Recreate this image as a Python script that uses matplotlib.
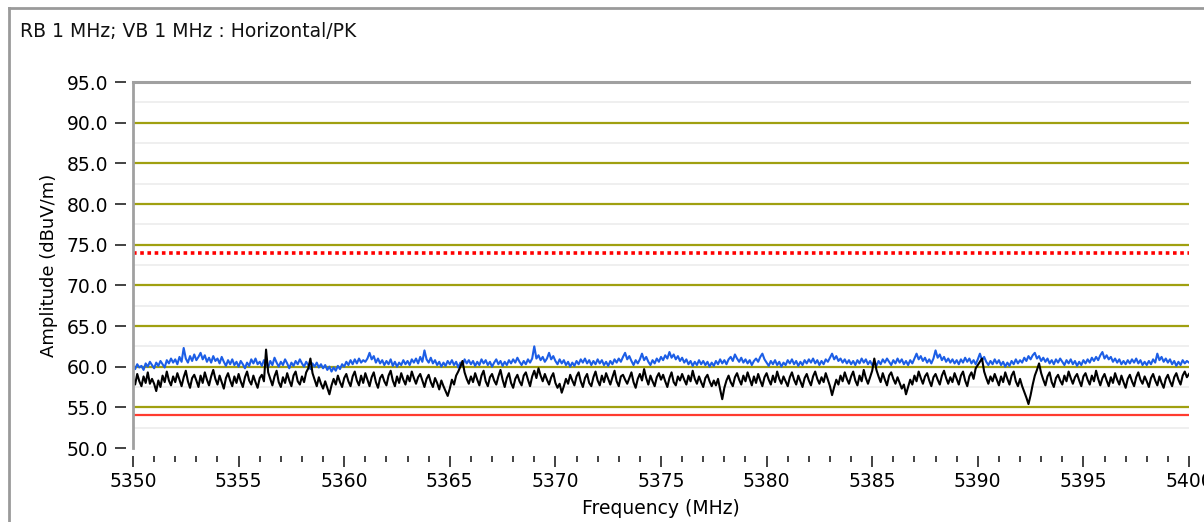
import numpy as np
import matplotlib
matplotlib.use("Agg")
import matplotlib.pyplot as plt
from matplotlib.lines import Line2D

# frequency axis: 5350 .. 5400 MHz, one reading every 0.1 MHz (one row = 1 MHz)
freq_start = 5350.0
freq_step = 0.1

# peak trace (blue), dBuV/m
peak_trace = [
    60.0, 59.7, 60.3, 59.9, 60.1, 59.6, 60.4, 60.0, 60.6, 60.2,
    59.8, 60.5, 60.1, 60.7, 60.3, 59.9, 60.8, 60.4, 61.0, 60.5,
    60.9, 60.3, 61.2, 60.6, 62.3, 61.0, 60.5, 61.3, 60.7, 61.5,
    60.8, 61.2, 61.7, 60.9, 61.4, 60.6, 61.1, 60.5, 61.3, 60.7,
    61.0, 60.4, 61.2, 60.6, 60.1, 60.8, 60.3, 60.9, 60.2, 60.6,
    60.0, 60.7, 60.3, 59.8, 60.5, 60.1, 60.9, 60.4, 61.0, 60.3,
    60.6, 60.1, 60.8, 60.4, 59.9, 60.7, 60.2, 61.1, 60.5, 60.0,
    60.6, 60.2, 60.9, 60.4, 59.8, 60.5, 60.1, 60.7, 60.3, 60.9,
    60.4, 60.0, 60.6, 60.2, 59.7, 60.4, 60.0, 60.5, 59.9, 60.3,
    59.8, 60.2, 59.6, 60.0, 59.4, 59.9, 59.5, 60.1, 59.7, 60.3,
    60.0, 60.6, 60.2, 60.8, 60.3, 60.9, 60.4, 61.0, 60.5, 60.8,
    60.6, 61.0, 61.7, 60.9, 61.3, 60.5, 61.0, 60.4, 60.8, 60.2,
    60.7, 60.3, 60.9, 60.1, 60.6, 60.0, 60.5, 60.2, 60.8, 60.3,
    60.7, 60.2, 60.9, 60.5, 61.0, 60.4, 61.2, 60.6, 62.0, 60.9,
    60.5, 61.1, 60.4, 60.8, 60.2, 60.6, 60.0, 60.5, 60.1, 60.7,
    60.3, 60.8, 60.2, 60.6, 59.9, 60.5, 60.1, 60.9, 60.4, 60.8,
    60.3, 60.7, 60.1, 60.6, 60.2, 60.9, 60.4, 60.8, 60.2, 60.6,
    60.0, 60.5, 60.9, 60.3, 60.7, 60.1, 60.6, 60.2, 60.8, 60.4,
    60.9, 60.5, 61.1, 60.6, 60.2, 60.7, 60.3, 60.9, 60.5, 61.0,
    62.5, 61.0, 61.4, 60.8, 61.2, 60.6, 61.0, 61.7, 60.9, 61.3,
    60.7, 60.3, 60.9, 60.4, 60.8, 60.2, 60.6, 60.0, 60.5, 60.1,
    60.7, 60.3, 60.9, 60.5, 61.0, 60.4, 60.8, 60.2, 60.7, 60.3,
    60.9, 60.4, 60.8, 60.2, 60.6, 60.1, 60.7, 60.3, 60.9, 60.5,
    61.0, 60.6, 61.2, 61.7, 60.9, 61.3, 60.7, 60.2, 60.8, 60.4,
    60.9, 61.6, 60.8, 61.2, 60.6, 60.2, 60.8, 60.4, 61.0, 60.6,
    61.2, 60.8, 61.4, 61.0, 61.8, 61.1, 61.5, 60.9, 61.3, 60.7,
    61.1, 60.5, 60.9, 60.3, 60.7, 60.1, 60.6, 60.2, 60.8, 60.3,
    60.7, 60.2, 60.6, 60.0, 60.5, 60.1, 60.7, 60.3, 60.9, 60.4,
    60.8, 60.3, 60.9, 61.2, 60.7, 61.5, 61.0, 60.6, 61.1, 60.5,
    60.9, 60.4, 60.8, 60.2, 60.7, 61.0, 60.6, 61.2, 61.6, 60.9,
    60.5, 60.1, 60.7, 60.3, 60.8, 60.2, 60.6, 60.0, 60.5, 60.2,
    60.8, 60.4, 60.9, 60.3, 60.7, 60.1, 60.6, 60.2, 60.8, 60.4,
    60.9, 60.5, 61.0, 60.4, 60.8, 60.2, 60.7, 60.3, 60.9, 60.6,
    61.1, 61.6, 60.9, 61.3, 60.7, 61.0, 60.5, 60.9, 60.4, 60.8,
    60.3, 60.7, 60.2, 60.8, 60.4, 61.0, 60.5, 60.9, 60.3, 60.7,
    60.2, 60.6, 60.1, 60.7, 60.3, 60.9, 60.5, 61.0, 60.6, 60.2,
    60.8, 60.4, 61.0, 60.5, 60.9, 60.3, 60.7, 60.2, 60.8, 60.4,
    61.0, 61.6, 60.9, 61.3, 60.7, 61.1, 60.5, 60.9, 60.4, 61.0,
    62.0, 61.1, 61.5, 60.8, 61.2, 60.6, 61.0, 60.5, 60.9, 60.4,
    60.8, 60.3, 60.9, 60.5, 61.1, 60.6, 61.0, 60.4, 60.8, 60.3,
    60.9, 61.6, 60.8, 61.2, 60.6, 60.2, 60.7, 60.3, 60.9, 60.4,
    60.8, 60.2, 60.6, 60.0, 60.5, 60.1, 60.7, 60.3, 60.9, 60.4,
    60.8, 60.5, 61.1, 60.7, 61.3, 60.9, 61.4, 61.7, 61.0, 61.3,
    60.7, 61.1, 60.6, 61.0, 60.4, 60.8, 60.3, 60.9, 60.5, 61.0,
    60.6, 60.2, 60.8, 60.4, 60.9, 60.3, 60.7, 60.1, 60.6, 60.2,
    60.8, 60.4, 60.9, 60.5, 61.1, 60.7, 61.2, 60.8, 61.4, 61.8,
    61.0, 61.4, 60.9, 61.2, 60.6, 61.0, 60.5, 60.9, 60.3, 60.7,
    60.3, 60.8, 60.4, 60.9, 60.5, 61.0, 60.4, 60.8, 60.2, 60.6,
    60.2, 60.7, 60.3, 60.9, 60.5, 61.6, 60.8, 61.2, 60.6, 61.0,
    60.5, 60.9, 60.3, 60.7, 60.1, 60.6, 60.2, 60.8, 60.4, 60.7,
    60.5,
]

# average trace (black), dBuV/m
avg_trace = [
    58.6, 57.8, 59.1, 58.2, 57.6, 58.8, 58.0, 59.3, 57.9, 58.5,
    57.9, 57.0, 58.3, 57.5, 58.9, 58.1, 59.4, 58.3, 57.7, 58.8,
    58.1, 59.2, 58.4, 57.6, 58.7, 59.5, 58.2, 57.4, 58.6, 59.0,
    58.3, 57.5, 58.9, 58.0, 59.3, 58.4, 57.7, 58.8, 59.6, 58.5,
    57.8, 58.9, 58.1, 57.3, 58.6, 59.2, 58.3, 57.6, 58.8, 58.0,
    59.1, 58.2, 57.5, 58.7, 59.4, 58.3, 57.8, 58.9, 58.1, 57.4,
    58.6, 59.0, 58.2, 62.1, 59.3, 58.5, 57.7, 58.8, 59.5, 58.1,
    57.5, 58.7, 58.0, 59.2, 58.3, 57.6, 58.9, 59.4, 58.2, 57.8,
    58.8, 58.1, 59.3, 59.8, 61.0, 59.2, 58.4, 57.6, 58.7, 57.9,
    57.3, 58.2, 57.4, 56.6, 57.7, 58.5, 57.8, 58.9, 58.1, 57.5,
    58.6, 59.1, 58.2, 57.6, 58.8, 59.4, 58.3, 57.7, 58.9, 58.0,
    59.2, 58.4, 57.6, 58.7, 59.3, 58.1, 57.4, 58.6, 59.0, 58.2,
    57.7, 58.9, 59.5, 58.3, 57.6, 58.8, 58.0, 59.2, 58.4, 57.8,
    58.9, 58.2, 59.4, 58.6, 57.9, 58.7, 59.1, 58.3, 57.5, 58.5,
    59.0, 58.1, 57.5, 58.6, 58.0, 57.2, 58.3, 57.6, 57.0, 56.4,
    57.3, 58.4, 57.8, 58.9, 59.4, 60.0, 60.7, 59.3, 58.5, 57.9,
    58.8, 58.1, 59.2, 58.4, 57.7, 58.9, 59.5, 58.2, 57.6, 58.7,
    59.1, 58.3, 57.8, 58.8, 59.6, 58.4, 57.5, 58.6, 59.2, 58.0,
    57.4, 58.5, 59.0, 58.2, 57.7, 58.9, 59.3, 58.4, 57.6, 58.8,
    59.5, 58.6, 59.8, 58.9, 58.2, 59.1, 58.4, 57.8, 58.7, 59.2,
    58.0, 57.4, 57.9, 56.8, 57.6, 58.5, 57.9, 59.0, 58.3, 57.7,
    58.8, 59.3, 58.2, 57.5, 58.6, 59.1, 58.0, 57.6, 58.7, 59.4,
    58.3, 57.7, 58.9, 58.1, 59.2, 58.5, 57.8, 58.7, 59.5, 58.2,
    57.6, 58.8, 59.0, 58.4, 57.9, 58.6, 59.3, 58.1, 57.4, 58.5,
    59.1, 58.3, 59.7, 58.6, 57.8, 58.9, 58.2, 57.6, 58.7, 59.2,
    58.4, 59.0, 58.2, 57.5, 58.6, 59.3, 58.1, 57.7, 58.8, 58.3,
    59.1, 58.4, 57.8, 58.9, 58.2, 59.5, 58.5, 57.9, 58.8, 58.1,
    57.5, 58.6, 59.0, 58.2, 57.6, 58.3, 57.7, 58.5, 57.2, 56.0,
    57.4, 58.3, 58.9, 58.1, 57.6, 58.7, 59.2, 58.4, 57.8, 58.9,
    58.2, 59.3, 58.5, 57.7, 58.8, 58.0, 59.1, 58.3, 57.6, 58.7,
    59.2, 58.4, 57.8, 58.9, 58.1, 59.4, 58.5, 57.9, 58.8, 58.2,
    57.6, 58.7, 59.3, 58.4, 57.8, 58.9, 58.2, 57.5, 58.6, 59.1,
    58.3, 57.7, 58.8, 59.4, 58.5, 57.9, 58.7, 58.1, 59.2, 58.4,
    57.6, 56.5, 57.5, 58.4, 57.8, 58.9, 58.2, 59.3, 58.5, 57.9,
    58.8, 59.4, 58.3, 57.7, 58.9, 58.2, 59.6, 58.6, 57.9, 58.7,
    59.5, 61.0, 59.6, 58.8, 58.1, 59.2, 58.4, 57.7, 58.9, 59.3,
    58.5, 57.9, 58.7, 58.0, 57.3, 57.8, 56.6, 57.5, 58.4, 57.8,
    58.9, 58.2, 59.4, 58.6, 57.9, 58.8, 59.2, 58.3, 57.6, 58.7,
    59.1, 58.4, 57.8, 58.9, 59.5, 58.6, 57.9, 58.7, 58.1, 59.2,
    58.5, 57.8, 58.9, 59.4, 58.3, 57.6, 58.8, 59.3, 58.5, 59.8,
    60.2, 60.6, 61.0, 59.4, 58.6, 57.9, 58.8, 58.2, 59.1, 58.4,
    57.7, 58.8, 58.1, 59.3, 58.5, 57.8, 58.9, 59.4, 58.2, 57.6,
    58.5, 57.6, 56.9, 56.2, 55.4, 56.5, 57.8, 58.9, 59.6, 60.4,
    59.2, 58.4, 57.7, 58.8, 59.3, 58.1, 57.5, 58.6, 59.0, 58.3,
    57.8, 58.9, 58.2, 59.4, 58.6, 57.9, 58.7, 59.1, 58.3, 57.6,
    58.8, 59.2, 58.4, 57.8, 58.9, 58.2, 59.5, 58.5, 57.7, 58.6,
    59.1, 58.3, 57.6, 58.7, 58.0, 59.2, 58.4, 57.8, 58.9, 58.1,
    57.4, 58.5, 59.0, 58.2, 57.6, 58.7, 59.3, 58.4, 57.9, 58.8,
    58.2, 57.5, 58.6, 59.1, 58.3, 57.7, 58.8, 58.0, 57.4, 58.5,
    59.0, 58.2, 57.6, 58.7, 59.2, 58.4, 57.8, 58.9, 59.4, 58.7,
    59.1,
]

peak_limit = 74.0
avg_limit = 54.0
olive_levels = [55, 60, 65, 70, 75, 80, 85, 90]
light_levels = [52.5, 57.5, 62.5, 67.5, 72.5, 77.5, 82.5, 87.5, 92.5]
y_ticks = [50, 55, 60, 65, 70, 75, 80, 85, 90, 95]
x_ticks = [5350, 5355, 5360, 5365, 5370, 5375, 5380, 5385, 5390, 5395, 5400]

freqs = freq_start + freq_step * np.arange(len(peak_trace))

fig = plt.figure(figsize=(12.04, 5.22), dpi=100)
fig.patch.set_facecolor("white")

# outer panel border (left and top)
fig.add_artist(Line2D([9 / 1204, 9 / 1204], [0, 1 - 8 / 522], transform=fig.transFigure,
                      color="#9a9a9a", lw=2))
fig.add_artist(Line2D([9 / 1204, 1], [1 - 8 / 522, 1 - 8 / 522], transform=fig.transFigure,
                      color="#9a9a9a", lw=2))
fig.text(20 / 1204, 1 - 31 / 522, "RB 1 MHz; VB 1 MHz : Horizontal/PK",
         fontsize=13.5, va="center", ha="left", color="#111111")

ax = fig.add_axes([133 / 1204, 1 - 448 / 522, (1189 - 133) / 1204, (448 - 82) / 522])

for lv in light_levels:
    ax.axhline(lv, color="#ececec", lw=1.2, zorder=1)
for lv in olive_levels:
    ax.axhline(lv, color="#a0a010", lw=1.6, zorder=2)
ax.axhline(avg_limit, color="#ff3b2f", lw=1.6, zorder=2)
ax.axhline(peak_limit, color="#ff0000", lw=2.6, ls=(0, (1, 1)), zorder=2)

ax.plot(freqs, peak_trace, color="#1c5ee6", lw=1.5, zorder=3)
ax.plot(freqs, avg_trace, color="black", lw=1.5, zorder=4)

# left border of the plot area (the tick marks sit a few pixels away from it)
ax.axvline(5350, color="#a0a0a0", lw=2, clip_on=False, zorder=5)

ax.set_xlim(5350, 5400)
ax.set_ylim(50, 95)
ax.set_yticks(y_ticks)
ax.set_yticklabels([f"{v:.1f}" for v in y_ticks])
ax.set_xticks(x_ticks)
ax.set_xticks(np.arange(5350, 5401, 1), minor=True)

for side in ["right", "bottom", "left"]:
    ax.spines[side].set_color("none")
ax.spines["bottom"].set_position(("outward", 6))
ax.spines["left"].set_position(("outward", 5))
ax.spines["top"].set_color("#a0a0a0")
ax.spines["top"].set_linewidth(2.2)

ax.tick_params(axis="y", length=8, width=1.2, color="#222222", labelsize=13.5, pad=5)
ax.tick_params(axis="x", which="major", length=8, width=1.2, color="#222222", labelsize=13.5, pad=3)
ax.tick_params(axis="x", which="minor", length=4, width=1.2, color="#222222")

ax.set_xlabel("Frequency (MHz)", fontsize=13.5, labelpad=6)
ax.set_ylabel("Amplitude (dBuV/m)", fontsize=13, labelpad=6)

fig.savefig("out.png", dpi=100)
